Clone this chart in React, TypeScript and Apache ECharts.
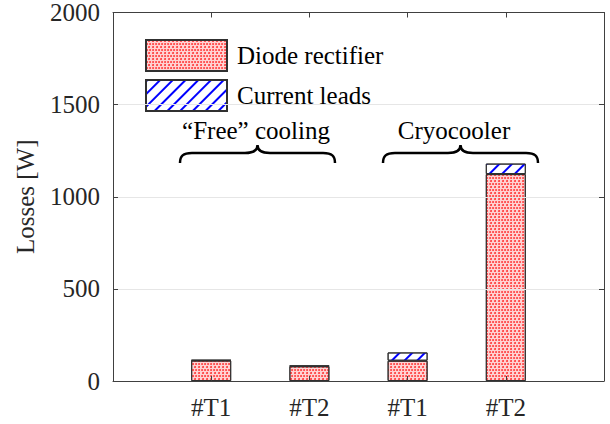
import React, { useEffect, useRef } from "react";
import * as echarts from "echarts";

const categories = ["#T1", "#T2", "#T1", "#T2"];
const diodeRectifier = [111, 80, 110, 1123];
const currentLeads = [3, 3, 45, 57];
const yTicks = [0, 500, 1000, 1500, 2000];
const groupLabels = ["\u201CFree\u201D cooling", "Cryocooler"];

const FONT = "'Liberation Serif', 'Times New Roman', serif";
const AXIS_COLOR = "#404040";
const FS = 25;

const braceD =
  "M0,18 C0,11 3,8 12,8 L65,8 C73,8 77.5,5 77.5,0 C77.5,5 82,8 90,8 L143,8 C152,8 155,11 155,18";

let registered = false;
function registerBrace() {
  if (registered) return;
  echarts.graphic.registerShape("brace", echarts.graphic.extendPath(braceD, {}) as any);
  registered = true;
}

export default function App() {
  const ref = useRef<HTMLDivElement>(null);
  useEffect(() => {
    if (!ref.current) return;
    registerBrace();
    const chart = echarts.init(ref.current, null, { renderer: "svg" });
    // padded category list: empty slots at both ends so bars sit at 1..4 on a 0..5 range
    const xCats = ["", ...categories, ""];
    const pad = (arr: number[]) => ["-", ...arr, "-"];
    const axisCommon = {
      axisLine: { show: true, onZero: false, lineStyle: { color: AXIS_COLOR, width: 1 } },
      axisTick: {
        show: true,
        inside: true,
        length: 5,
        interval: 0,
        alignWithLabel: true,
        lineStyle: { color: AXIS_COLOR },
      },
    };
    const option: any = {
      animation: false,
      grid: { left: 113, right: 6, top: 11, bottom: 43, containLabel: false },
      legend: {
        orient: "vertical",
        left: 145,
        top: 39,
        padding: 0,
        itemWidth: 81,
        itemHeight: 31,
        itemGap: 7,
        icon: "rect",
        textStyle: { fontFamily: FONT, fontSize: FS, color: "#000", padding: [0, 0, 0, 5] },
        data: ["Diode rectifier", "Current leads"],
      },
      xAxis: [
        {
          type: "category",
          data: xCats,
          boundaryGap: false,
          position: "bottom",
          z: 5,
          ...axisCommon,
          splitLine: { show: false },
          axisLabel: {
            interval: 0,
            fontFamily: FONT,
            fontSize: FS,
            color: "#262626",
            margin: 14,
          },
        },
        {
          type: "category",
          data: xCats,
          boundaryGap: false,
          position: "top",
          z: 5,
          ...axisCommon,
          splitLine: { show: false },
          axisLabel: { show: false },
        },
      ],
      yAxis: [
        {
          type: "value",
          min: yTicks[0],
          max: yTicks[yTicks.length - 1],
          interval: 500,
          position: "left",
          z: 5,
          ...axisCommon,
          name: "Losses [W]",
          nameLocation: "middle",
          nameGap: 75,
          nameTextStyle: { fontFamily: FONT, fontSize: FS, color: "#262626" },
          splitLine: { show: true, lineStyle: { color: "#e6e6e6", width: 1 } },
          axisLabel: {
            fontFamily: FONT,
            fontSize: FS,
            color: "#262626",
            margin: 13,
            formatter: (v: number) => String(v),
          },
        },
        {
          type: "value",
          min: yTicks[0],
          max: yTicks[yTicks.length - 1],
          interval: 500,
          position: "right",
          z: 5,
          ...axisCommon,
          splitLine: { show: false },
          axisLabel: { show: false },
        },
      ],
      series: [
        {
          name: "Diode rectifier",
          type: "bar",
          stack: "total",
          barWidth: 40,
          data: pad(diodeRectifier),
          itemStyle: {
            color: "#ffd2d2",
            borderColor: "#303030",
            borderWidth: 1,
            decal: {
              symbol: "circle",
              symbolSize: 0.9,
              color: "rgba(255,0,0,0.8)",
              dashArrayX: [[2, 1], [0, 1.5, 2, 0]],
              dashArrayY: [2, 1],
              rotation: 0,
            },
          },
        },
        {
          name: "Current leads",
          type: "bar",
          stack: "total",
          barWidth: 40,
          data: pad(currentLeads),
          itemStyle: {
            color: "#ffffff",
            borderColor: "#303030",
            borderWidth: 1,
            decal: {
              symbol: "rect",
              symbolSize: 1,
              color: "#0000ff",
              dashArrayX: [1, 0],
              dashArrayY: [2, 7],
              rotation: -Math.PI / 4,
            },
          },
        },
      ],
      graphic: [
        {
          type: "brace",
          x: 180,
          y: 145,
          style: { fill: "none", stroke: "#000", lineWidth: 2.5 },
        },
        {
          type: "brace",
          x: 383,
          y: 145,
          style: { fill: "none", stroke: "#000", lineWidth: 2.5 },
        },
        {
          type: "text",
          x: 256,
          y: 130,
          style: {
            text: groupLabels[0],
            fontFamily: FONT,
            fontSize: FS,
            fill: "#000",
            textAlign: "center",
            textVerticalAlign: "middle",
          },
        },
        {
          type: "text",
          x: 454,
          y: 130,
          style: {
            text: groupLabels[1],
            fontFamily: FONT,
            fontSize: FS,
            fill: "#000",
            textAlign: "center",
            textVerticalAlign: "middle",
          },
        },
      ],
    };
    chart.setOption(option);
    return () => chart.dispose();
  }, []);
  return (
    <div
      ref={ref}
      style={{ position: "fixed", left: 0, top: 0, width: 610, height: 424, background: "#fff" }}
    />
  );
}
